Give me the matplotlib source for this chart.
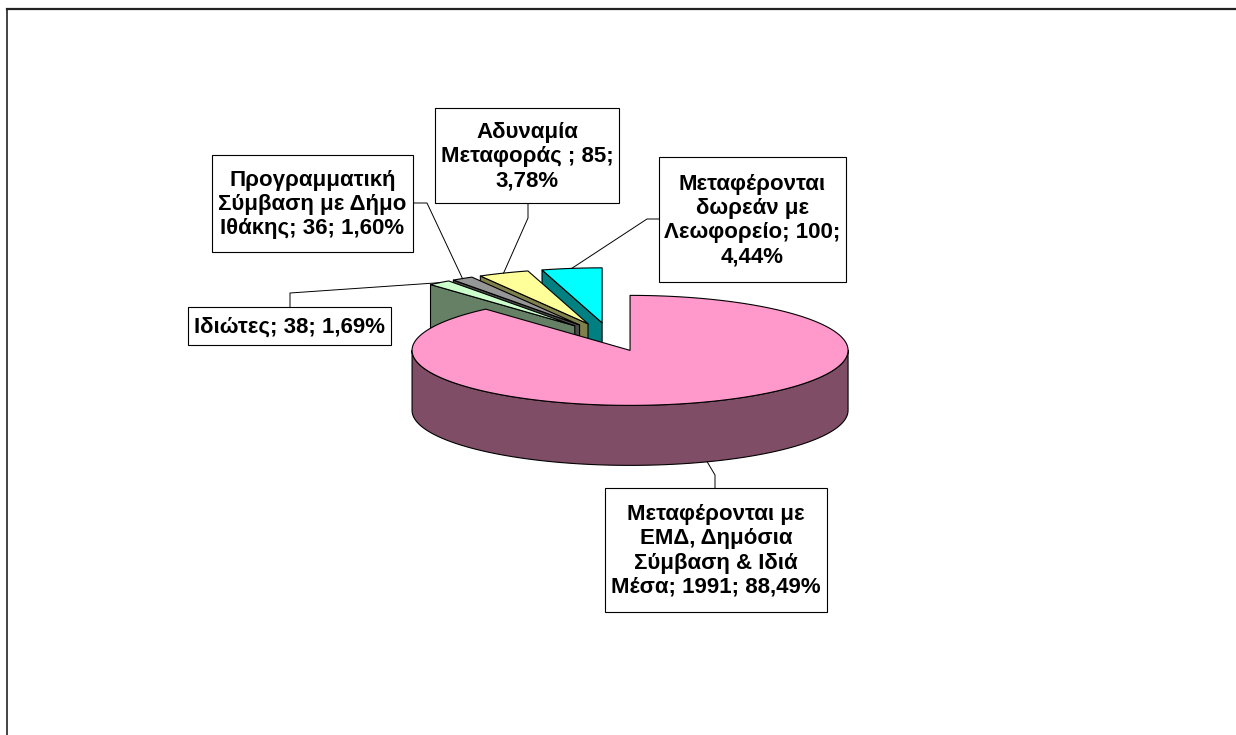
import numpy as np
import matplotlib.pyplot as plt
from matplotlib.patches import Polygon, Rectangle

# data, clockwise from 12 o'clock
categories = [
    "Μεταφέρονται με\nΕΜΔ, Δημόσια\nΣύμβαση & Ιδιά\nΜέσα",
    "Ιδιώτες",
    "Προγραμματική\nΣύμβαση με Δήμο\nΙθάκης",
    "Αδυναμία\nΜεταφοράς ",
    "Μεταφέρονται\nδωρεάν με\nΛεωφορείο",
]
values = [1991, 38, 36, 85, 100]
pct_sep = [" ", " ", " ", "\n", "\n"]

top_colors = ["#FF99CC", "#CCFFCC", "#969696", "#FFFF99", "#00FFFF"]
side_colors = ["#804D66", "#668066", "#4B4B4B", "#80804D", "#008080"]

# layout (pixels)
W, H = 1236, 735
cx, cy = 610, 337
rx, ry, depth = 218, 55, 60
explode = 0.26
boxes = [(605, 488, 827, 612), (188, 307, 391, 345), (212, 155, 413, 252),
         (435, 108, 619, 203), (659, 157, 846, 282)]
# box attach point and elbow for the leader lines
leaders = [((715, 488), (715, 475)), ((290, 307), (290, 293)), ((413, 203), (427, 203)),
           ((528, 203), (528, 218)), ((659, 219), (647, 219))]

plt.rcParams["font.family"] = ["Liberation Sans", "DejaVu Sans"]

fig = plt.figure(figsize=(W / 100, H / 100), dpi=100)
ax = fig.add_axes([0, 0, 1, 1])
ax.set_xlim(0, W)
ax.set_ylim(H, 0)
ax.axis("off")

total = sum(values)
fracs = np.array(values) / total
ends = np.cumsum(fracs) * 2 * np.pi
starts = ends - fracs * 2 * np.pi
mids = (starts + ends) / 2


def rim(x0, y0, th, dz=0):
    return np.column_stack([x0 + rx * np.sin(th), y0 - ry * np.cos(th) + dz])


def poly(pts, fc):
    ax.add_patch(Polygon(pts, closed=True, facecolor=fc, edgecolor="black",
                         linewidth=0.8, joinstyle="round"))


centers = []
for m in mids:
    centers.append((cx + explode * rx * np.sin(m), cy - explode * ry * np.cos(m)))

order = np.argsort(-np.cos(mids))
for i in order:
    s, e = starts[i], ends[i]
    x0, y0 = centers[i]
    # radial cut faces
    for th, vis in ((s, np.sin(s) < -1e-6), (e, np.sin(e) > 1e-6)):
        if vis:
            p = rim(x0, y0, np.array([th]))[0]
            poly([(x0, y0), p, (p[0], p[1] + depth), (x0, y0 + depth)], side_colors[i])
    # outer wall, front half only
    a, b = max(s, np.pi / 2), min(e, 3 * np.pi / 2)
    if b > a:
        th = np.linspace(a, b, 120)
        top = rim(x0, y0, th)
        bot = rim(x0, y0, th[::-1], depth)
        poly(np.vstack([top, bot]), side_colors[i])
    # top face
    th = np.linspace(s, e, max(int(np.degrees(e - s)), 4))
    poly(np.vstack([[x0, y0], rim(x0, y0, th)]), top_colors[i])

# labels
for i in range(len(values)):
    x0, y0, x1, y1 = boxes[i]
    pct = f"{fracs[i] * 100:.2f}%".replace(".", ",")
    text = f"{categories[i]}; {values[i]};{pct_sep[i]}{pct}"
    ax.add_patch(Rectangle((x0, y0), x1 - x0, y1 - y0, facecolor="white",
                           edgecolor="black", linewidth=0.8, zorder=3))
    ax.text((x0 + x1) / 2, (y0 + y1) / 2 + 1, text, ha="center", va="center",
            fontsize=16, fontweight="bold", linespacing=1.2, zorder=4)
    xc, yc = centers[i]
    if np.cos(mids[i]) < 0:
        anchor = rim(xc, yc, np.array([mids[i]]), depth)[0]
    else:
        anchor = rim(xc, yc, np.array([mids[i]]))[0]
    (ax_, ay_), (ex, ey) = leaders[i]
    ax.plot([ax_, ex, anchor[0]], [ay_, ey, anchor[1]], color="black",
            linewidth=0.7, zorder=2)

# chart area frame (only top and left edges are in view)
ax.plot([7, W], [8.5, 8.5], color="#222222", linewidth=1.6)
ax.plot([7, 7], [8.5, H], color="#222222", linewidth=1.2)

fig.savefig("out.png", dpi=100)
